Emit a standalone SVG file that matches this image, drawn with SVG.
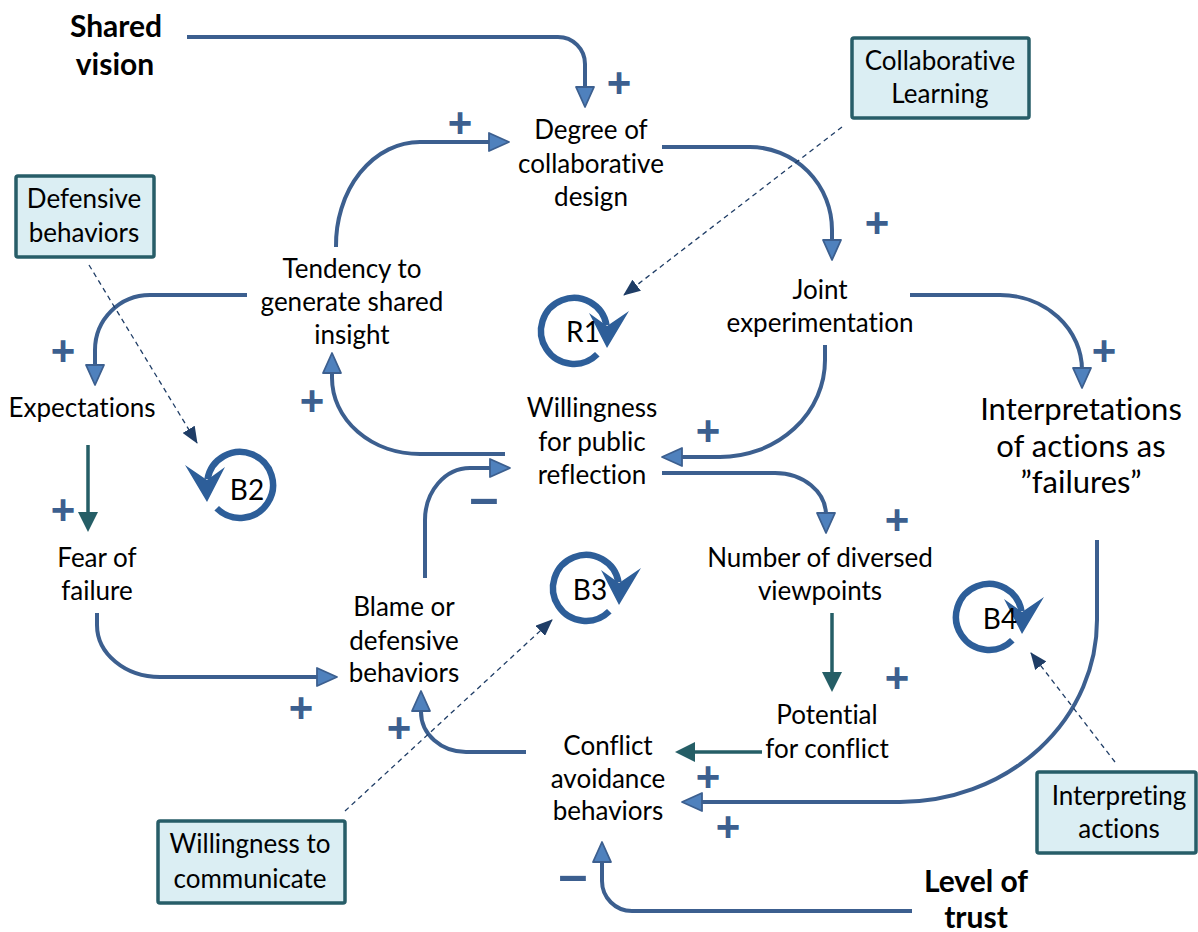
<svg xmlns="http://www.w3.org/2000/svg" xmlns:xlink="http://www.w3.org/1999/xlink" width="1198" height="932" viewBox="0 0 1198 932">
  <style>
    text { font-variant-ligatures: none; }
    .t { font-family: Lato, "Liberation Sans", sans-serif; font-size: 26px; fill: #000; text-anchor: middle; }
    .big { font-size: 31px; }
    .b { font-weight: bold; font-size: 30px; }
    .lp { font-family: Lato, "Liberation Sans", sans-serif; font-size: 28px; fill: #000; text-anchor: middle; }
    .pm { font-family: "Liberation Sans", Arial, sans-serif; font-weight: bold; font-size: 42px; fill: #3c5f8f; text-anchor: middle; }
    .mn { font-family: "Liberation Sans", Arial, sans-serif; font-weight: bold; font-size: 52px; fill: #3c5f8f; text-anchor: middle; }
    .box rect { fill: #dbeef3; stroke: #275d68; stroke-width: 3.5; }
    .link { fill: none; stroke: #3c5f8f; stroke-width: 4; marker-end: url(#arr); }
    .teal { fill: none; stroke: #255e66; stroke-width: 3.5; marker-end: url(#arrT); }
    .dash { fill: none; stroke: #1f3d66; stroke-width: 1.3; stroke-dasharray: 5 4; marker-end: url(#arrD); }
    .loop path.ring { fill: none; stroke: #2d5e99; stroke-width: 6.5; }
    .loop polygon { fill: #2d5e99; }
  </style>
  <defs>
    <marker id="arr" viewBox="0 0 22 20" markerWidth="22" markerHeight="20" refX="13" refY="10" orient="auto" markerUnits="userSpaceOnUse">
      <path d="M1,1 L21,10 L1,19 Z" fill="#4f81bd" stroke="#3c5f8f" stroke-width="1.8" stroke-linejoin="round"/>
    </marker>
    <marker id="arrT" viewBox="0 0 20 20" markerWidth="20" markerHeight="20" refX="12" refY="10" orient="auto" markerUnits="userSpaceOnUse">
      <path d="M0,0 L20,10 L0,20 Z" fill="#255e66"/>
    </marker>
    <marker id="arrD" viewBox="0 0 17 14" markerWidth="17" markerHeight="14" refX="16" refY="7" orient="auto" markerUnits="userSpaceOnUse">
      <path d="M0,0 L17,7 L0,14 Z" fill="#1f3d66"/>
    </marker>
    <!-- clockwise loop marker, centred on 0,0 -->
    <g id="loopCW" class="loop">
      <path class="ring" d="M23.3,23.3 A33,33 0 1 1 32.5,-5.7"/>
      <polygon points="15,-18 33,-5 55,-20 33,17"/>
    </g>
  </defs>

  <!-- connectors -->
  <g id="connectors">
    <path class="link" d="M187,37 H558 A27,27 0 0 1 585,64 V99"/>
    <path class="link" d="M336,247 A84,103 0 0 1 420,142 H501"/>
    <path class="link" d="M662,147 H750 A82,83 0 0 1 832,230 V252"/>
    <path class="link" d="M825,345 V360 A105,97 0 0 1 720,457 H670"/>
    <path class="link" d="M505,454 H420 A88,76 0 0 1 332,378 V361"/>
    <path class="link" d="M425,578 V520 A45,52 0 0 1 470,468 H502"/>
    <path class="link" d="M247,295 H150 A55,55 0 0 0 95,350 V377"/>
    <path class="teal" d="M88,445 V524"/>
    <path class="link" d="M97,613 V625 A63,52 0 0 0 160,677 H329"/>
    <path class="link" d="M662,473 H775 A51,42 0 0 1 826,515 V525"/>
    <path class="teal" d="M832,613 V684"/>
    <path class="teal" d="M762,752 H683"/>
    <path class="link" d="M526,752 H466 A45,40 0 0 1 421,712 V699"/>
    <path class="link" d="M1097,540 V620 A197,182 0 0 1 900,802 H690"/>
    <path class="link" d="M910,295 H1000 A82,75 0 0 1 1082,370 V380"/>
    <path class="link" d="M912,911 H632 A30,30 0 0 1 602,881 V850"/>
    <path class="dash" d="M842,127 L624,295"/>
    <path class="dash" d="M89,265 L197,443"/>
    <path class="dash" d="M345,811 L552,620"/>
    <path class="dash" d="M1115,762 L1031,653"/>
  </g>

  <!-- link polarities -->
  <g id="polarities">
    <text class="pm" x="619" y="97">+</text>
    <text class="pm" x="460" y="137">+</text>
    <text class="pm" x="877" y="237">+</text>
    <text class="pm" x="708" y="445">+</text>
    <text class="pm" x="312" y="415">+</text>
    <text class="pm" x="63" y="365">+</text>
    <text class="pm" x="63" y="524">+</text>
    <text class="pm" x="301" y="722">+</text>
    <text class="pm" x="897" y="534">+</text>
    <text class="pm" x="1104" y="365">+</text>
    <text class="pm" x="897" y="692">+</text>
    <text class="pm" x="708" y="791">+</text>
    <text class="pm" x="728" y="841">+</text>
    <text class="pm" x="399" y="742">+</text>
    <text class="mn" x="484" y="515">–</text>
    <text class="mn" x="573" y="892">–</text>
  </g>

  <!-- loop markers -->
  <g id="loop-R1">
    <use xlink:href="#loopCW" transform="translate(574,331)"/>
    <text class="lp" x="583" y="342">R1</text>
  </g>
  <g id="loop-B2">
    <use xlink:href="#loopCW" transform="translate(240,485) scale(-1,1)"/>
    <text class="lp" x="247" y="500">B2</text>
  </g>
  <g id="loop-B3">
    <use xlink:href="#loopCW" transform="translate(586,588)"/>
    <text class="lp" x="590" y="600">B3</text>
  </g>
  <g id="loop-B4">
    <use xlink:href="#loopCW" transform="translate(989,617)"/>
    <text class="lp" x="1000" y="629">B4</text>
  </g>

  <!-- variables -->
  <g id="shared-vision"><text class="t b" x="116" y="37">Shared</text><text class="t b" x="115" y="75">vision</text></g>
  <g id="degree-collab-design">
    <text class="t" x="591" y="139">Degree of</text>
    <text class="t" x="591" y="173">collaborative</text>
    <text class="t" x="591" y="206">design</text>
  </g>
  <g id="tendency-insight">
    <text class="t" x="352" y="278">Tendency to</text>
    <text class="t" x="352" y="311">generate shared</text>
    <text class="t" x="352" y="344">insight</text>
  </g>
  <g id="joint-experimentation">
    <text class="t" x="820" y="299">Joint</text>
    <text class="t" x="820" y="332">experimentation</text>
  </g>
  <g id="willingness-reflection">
    <text class="t" x="592" y="417">Willingness</text>
    <text class="t" x="592" y="451">for public</text>
    <text class="t" x="592" y="484">reflection</text>
  </g>
  <g id="expectations"><text class="t" x="82" y="417">Expectations</text></g>
  <g id="fear-of-failure">
    <text class="t" x="97" y="567">Fear of</text>
    <text class="t" x="97" y="600">failure</text>
  </g>
  <g id="blame-defensive">
    <text class="t" x="404" y="616">Blame or</text>
    <text class="t" x="404" y="650">defensive</text>
    <text class="t" x="404" y="682">behaviors</text>
  </g>
  <g id="diverse-viewpoints">
    <text class="t" x="820" y="567">Number of diversed</text>
    <text class="t" x="820" y="600">viewpoints</text>
  </g>
  <g id="potential-conflict">
    <text class="t" x="827" y="724">Potential</text>
    <text class="t" x="827" y="758">for conflict</text>
  </g>
  <g id="conflict-avoidance">
    <text class="t" x="608" y="755">Conflict</text>
    <text class="t" x="608" y="788">avoidance</text>
    <text class="t" x="608" y="820">behaviors</text>
  </g>
  <g id="interpretations-failures">
    <text class="t big" x="1081" y="420">Interpretations</text>
    <text class="t big" x="1081" y="457">of actions as</text>
    <text class="t big" x="1081" y="493">”failures”</text>
  </g>
  <g id="level-of-trust"><text class="t b" x="976" y="892">Level of</text><text class="t b" x="976" y="928">trust</text></g>

  <!-- archetype labels -->
  <g id="box-collaborative-learning" class="box">
    <rect x="852" y="38" width="177" height="80" rx="2"/>
    <text class="t" x="940" y="70">Collaborative</text>
    <text class="t" x="940" y="103">Learning</text>
  </g>
  <g id="box-defensive-behaviors" class="box">
    <rect x="16" y="176" width="138" height="81" rx="2"/>
    <text class="t" x="84" y="208">Defensive</text>
    <text class="t" x="84" y="242">behaviors</text>
  </g>
  <g id="box-willingness-communicate" class="box">
    <rect x="158" y="821" width="187" height="82" rx="2"/>
    <text class="t" x="250" y="853">Willingness to</text>
    <text class="t" x="250" y="888">communicate</text>
  </g>
  <g id="box-interpreting-actions" class="box">
    <rect x="1037" y="772" width="159" height="81" rx="2"/>
    <text class="t" x="1119" y="805">Interpreting</text>
    <text class="t" x="1119" y="838">actions</text>
  </g>
</svg>
